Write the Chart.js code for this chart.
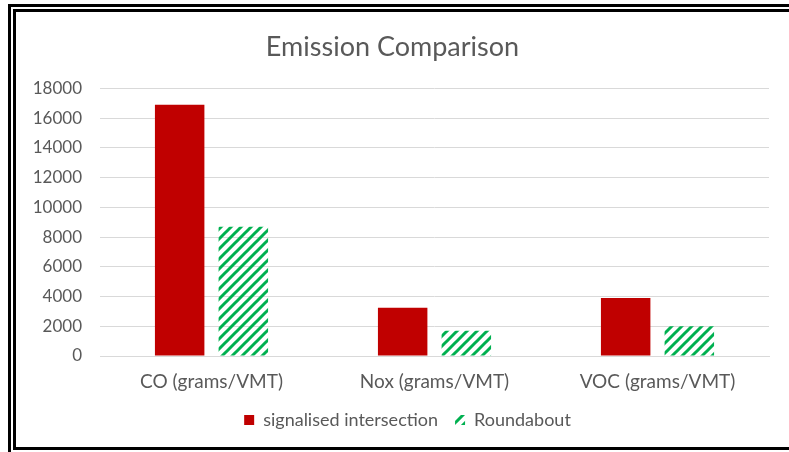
<!DOCTYPE html>
<html>
<head>
<meta charset="utf-8">
<script src="https://cdn.jsdelivr.net/npm/chart.js@4"></script>
<style>
  body { margin: 0; background: #fff; overflow: hidden; width: 789px; height: 452px; }
  #frame { position: absolute; left: 8px; top: 4px; width: 800px; height: 435px;
           border-top: 8px double #000; border-left: 8px double #000; border-bottom: 8px double #000; }
  #wrap { position: absolute; left: 16px; top: 12px; width: 773px; height: 435px; }
</style>
</head>
<body>
<div id="frame"></div>
<div id="wrap"><canvas id="emissionChart"></canvas></div>
<script>
var categories = ["CO (grams/VMT)", "Nox (grams/VMT)", "VOC (grams/VMT)"];
var signalised = [16900, 3250, 3900];
var roundabout = [8700, 1700, 2000];
var yTicks = [0, 2000, 4000, 6000, 8000, 10000, 12000, 14000, 16000, 18000];

// green diagonal hatch like the Excel pattern fill
function makeHatch() {
    var c = document.createElement("canvas");
    c.width = 10; c.height = 10;
    var g = c.getContext("2d");
    g.strokeStyle = "#00B050";
    g.lineWidth = 3;
    g.beginPath();
    g.moveTo(-5, 5); g.lineTo(5, -5);
    g.moveTo(0, 10); g.lineTo(10, 0);
    g.moveTo(5, 15); g.lineTo(15, 5);
    g.stroke();
    return g.createPattern(c, "repeat");
}

// legend sits a bit right of the canvas centre in the original
var shiftLegend = {
    id: 'shiftLegend',
    afterLayout: function(chart) {
        chart.legend.left += 15;
        chart.legend.right += 15;
    }
};

var ctx = document.getElementById("emissionChart");
var hatch = makeHatch();
var grey = "#595959";

new Chart(ctx, {
    type: 'bar',
    data: {
        labels: categories,
        datasets: [{
            label: "signalised intersection",
            data: signalised,
            backgroundColor: "#C00000",
            borderWidth: 0
        }, {
            label: "Roundabout",
            data: roundabout,
            backgroundColor: hatch,
            borderWidth: 0
        }]
    },
    plugins: [shiftLegend],
    options: {
        responsive: true,
        maintainAspectRatio: false,
        animation: false,
        categoryPercentage: 0.571,
        barPercentage: 0.777,
        layout: { padding: { left: 0, right: 20, top: 0, bottom: 8 } },
        plugins: {
            title: {
                display: true,
                text: "Emission Comparison",
                color: grey,
                font: { family: "Lato", size: 27, weight: 'normal' },
                padding: { top: 19, bottom: 25 }
            },
            legend: {
                position: 'bottom',
                labels: {
                    color: grey,
                    font: { family: "Lato", size: 18 },
                    boxWidth: 10,
                    boxHeight: 10,
                    padding: 17
                }
            },
            tooltip: { enabled: false }
        },
        scales: {
            x: {
                grid: { display: false, drawTicks: false },
                border: { display: true, color: "#d9d9d9" },
                ticks: { color: grey, font: { family: "Lato", size: 19 }, padding: 14 },
                afterFit: function(s) { s.height = 38; }
            },
            y: {
                min: 0,
                max: 18000,
                afterBuildTicks: function(s) { s.ticks = yTicks.map(function(v) { return { value: v }; }); },
                grid: { color: "#d9d9d9", drawTicks: false },
                border: { display: false },
                ticks: {
                    color: grey,
                    font: { family: "Lato", size: 17 },
                    padding: 18,
                    callback: function(v) { return String(v); }
                },
                afterFit: function(s) { s.width = 84; }
            }
        }
    }
});
</script>
</body>
</html>
